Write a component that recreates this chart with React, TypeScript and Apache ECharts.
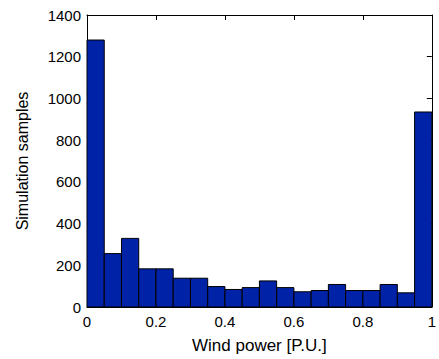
import React, { useEffect, useRef } from "react";
import * as echarts from "echarts";

const binLeft = [0, 0.05, 0.1, 0.15, 0.2, 0.25, 0.3, 0.35, 0.4, 0.45, 0.5, 0.55, 0.6, 0.65, 0.7, 0.75, 0.8, 0.85, 0.9, 0.95];
const binWidth = 0.05;
const counts = [1280, 256, 329, 183, 183, 138, 138, 98, 84, 93, 125, 93, 73, 79, 108, 79, 79, 108, 68, 935];
const xTicks = { min: 0, max: 1, interval: 0.2 };
const yTicks = { min: 0, max: 1400, interval: 200 };
const xLabel = "Wind power [P.U.]";
const yLabel = "Simulation samples";

export default function App() {
  const ref = useRef<HTMLDivElement>(null);
  useEffect(() => {
    const chart = echarts.init(ref.current!, null, { renderer: "svg" });
    const font = "'Liberation Sans', Arial, sans-serif";
    const tickCommon = { inside: true, length: 5, lineStyle: { color: "#000", width: 1 } };
    chart.setOption({
      animation: false,
      grid: { left: 87, top: 15, right: 7, bottom: 49, containLabel: false },
      xAxis: [
        {
          type: "value",
          min: xTicks.min,
          max: xTicks.max,
          interval: xTicks.interval,
          name: xLabel,
          nameLocation: "middle",
          nameGap: 30,
          nameTextStyle: { fontFamily: font, fontSize: 17, color: "#000" },
          axisLine: { show: true, onZero: false, lineStyle: { color: "#000", width: 1 } },
          axisTick: tickCommon,
          axisLabel: { fontFamily: font, fontSize: 15, color: "#000", margin: 7, formatter: (v: number) => String(Math.round(v * 10) / 10) },
          splitLine: { show: false },
        },
        {
          type: "value",
          position: "top",
          min: xTicks.min,
          max: xTicks.max,
          interval: xTicks.interval,
          axisLine: { show: true, onZero: false, lineStyle: { color: "#000", width: 1 } },
          axisTick: tickCommon,
          axisLabel: { show: false },
          splitLine: { show: false },
        },
      ],
      yAxis: [
        {
          type: "value",
          min: yTicks.min,
          max: yTicks.max,
          interval: yTicks.interval,
          name: yLabel,
          nameLocation: "middle",
          nameGap: 57,
          nameTextStyle: { fontFamily: font, fontSize: 16, color: "#000" },
          axisLine: { show: true, onZero: false, lineStyle: { color: "#000", width: 1 } },
          axisTick: tickCommon,
          axisLabel: { fontFamily: font, fontSize: 15, color: "#000", margin: 6, formatter: (v: number) => String(v) },
          splitLine: { show: false },
        },
        {
          type: "value",
          position: "right",
          min: yTicks.min,
          max: yTicks.max,
          interval: yTicks.interval,
          axisLine: { show: true, onZero: false, lineStyle: { color: "#000", width: 1 } },
          axisTick: tickCommon,
          axisLabel: { show: false },
          splitLine: { show: false },
        },
      ],
      series: [
        {
          type: "custom",
          xAxisIndex: 0,
          yAxisIndex: 0,
          data: binLeft.map((x, i) => [x, x + binWidth, counts[i]]),
          encode: { x: [0, 1], y: 2 },
          renderItem: (params: any, api: any) => {
            const x0 = api.value(0);
            const x1 = api.value(1);
            const y = api.value(2);
            const p0 = api.coord([x0, 0]);
            const p1 = api.coord([x1, y]);
            return {
              type: "rect",
              shape: { x: p0[0], y: p1[1], width: p1[0] - p0[0], height: p0[1] - p1[1] },
              style: { fill: "#0022a6", stroke: "#000", lineWidth: 1 },
            };
          },
        },
      ],
    });
    return () => chart.dispose();
  }, []);
  return <div ref={ref} style={{ position: "fixed", left: 0, top: 0, width: 439, height: 359, background: "#fff" }} />;
}
